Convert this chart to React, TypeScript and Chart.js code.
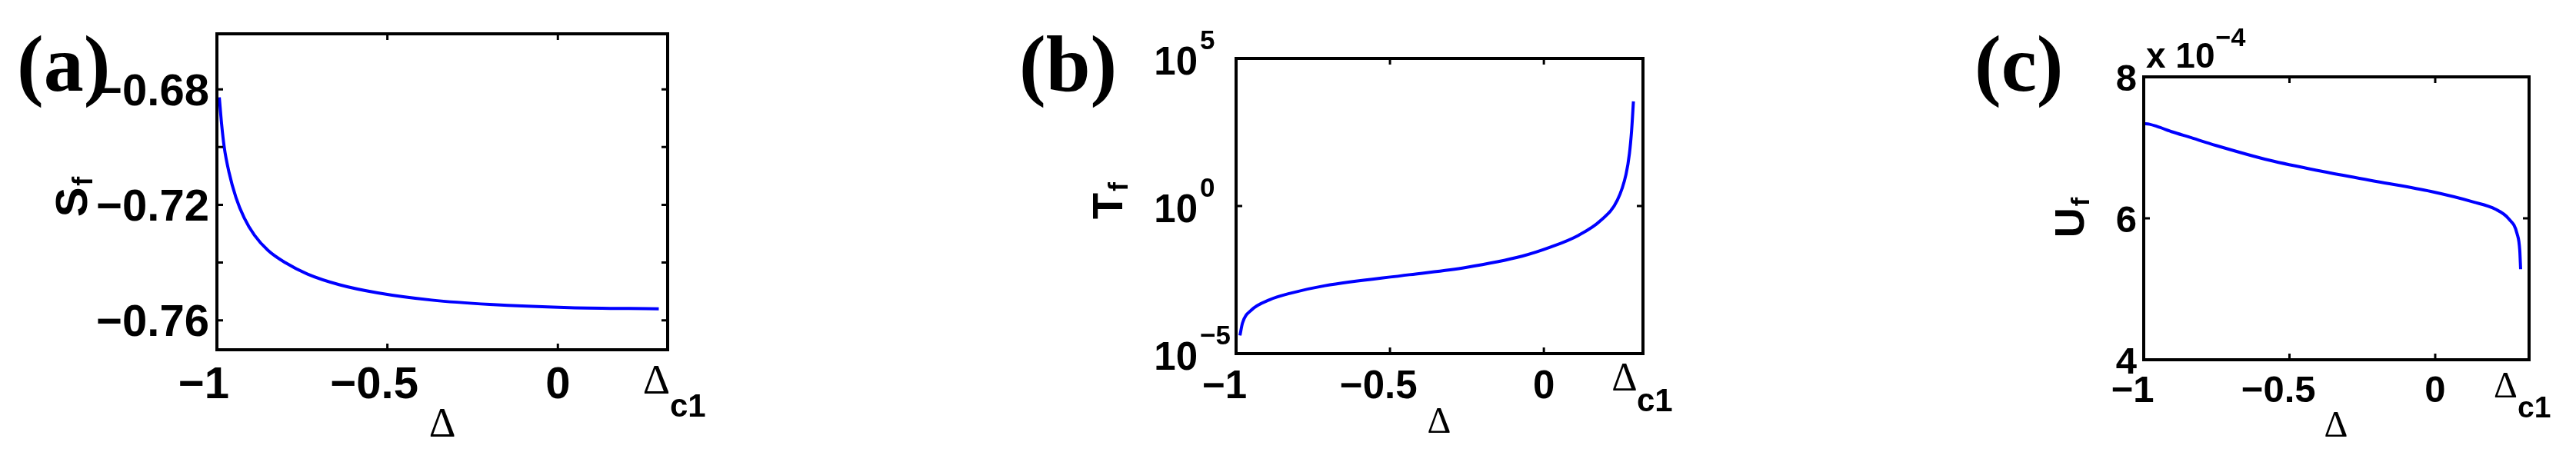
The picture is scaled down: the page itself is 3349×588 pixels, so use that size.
import React, { useEffect, useRef } from 'react';
import { Chart, registerables } from 'chart.js';

Chart.register(...registerables);

// ---------------- data ----------------
// Panel (a): S_f versus Delta
const A_DELTA = [-0.993, -0.9865, -0.9786, -0.965, -0.944, -0.92, -0.89, -0.85, -0.8, -0.734, -0.64, -0.528, -0.37, -0.2, 0.034, 0.296];
const A_SF = [-0.6828, -0.6917, -0.7, -0.7085, -0.7175, -0.7245, -0.7305, -0.7358, -0.74, -0.744, -0.7477, -0.7505, -0.753, -0.7545, -0.7556, -0.756];

// Panel (b): T_f versus Delta (log axis)
const B_DELTA = [-0.9875, -0.979, -0.95, -0.892, -0.825, -0.711, -0.437, -0.254, -0.071, 0.02, 0.111, 0.184, 0.239, 0.267, 0.278, 0.285, 0.291];
const B_TF = [4.1e-5, 1.1e-4, 3.0e-4, 6.6e-4, 1.1e-3, 2.0e-3, 4.7e-3, 8.3e-3, 2.0e-2, 4.0e-2, 0.1, 0.32, 1.6, 12, 60, 355, 3500];

// Panel (c): U_f versus Delta
const C_DELTA = [-1.0, -0.98, -0.955, -0.9, -0.845, -0.752, -0.568, -0.383, -0.199, -0.015, 0.132, 0.206, 0.253, 0.281, 0.29, 0.293];
const C_UF = [7.34e-4, 7.33e-4, 7.3e-4, 7.22e-4, 7.15e-4, 7.03e-4, 6.82e-4, 6.66e-4, 6.52e-4, 6.38e-4, 6.23e-4, 6.13e-4, 5.99e-4, 5.78e-4, 5.55e-4, 5.28e-4];

// ticks
const X_TICKS = [-1, -0.5, 0];
const X_TICK_LABELS = ['−1', '−0.5', '0'];
const A_Y_TICKS = [-0.76, -0.74, -0.72, -0.7, -0.68];
const A_Y_TICK_LABELS = ['−0.76', '', '−0.72', '', '−0.68'];
const B_Y_TICKS = [1e-5, 1, 1e5];
const B_Y_TICK_EXPONENTS = ['−5', '0', '5'];
const C_Y_TICKS = [4e-4, 6e-4, 8e-4];
const C_Y_TICK_LABELS = ['4', '6', '8'];

const X_MIN = -1;
const X_MAX = 0.322;

const SANS = '"Liberation Sans", Arial, Helvetica, sans-serif';
const SERIF = '"Liberation Serif", "Times New Roman", serif';
const BLUE = '#0000ff';
const TICK_LEN = 8;

type Spec = {
  key: string;
  left: number;
  width: number;
  area: { l: number; t: number; r: number; b: number };
  xs: number[];
  ys: number[];
  yType: 'linear' | 'logarithmic';
  yMin: number;
  yMax: number;
  yTicks: number[];
  yMode: 'plain' | 'pow10';
  yLabels: string[];
  fs: number;
  xLabelBase: number;
  yLabelRight: number;
  panel: { text: string; x: number; base: number };
  title: { main: string; baseX: number; cy: number; size: number; subSize: number; drop: number };
  xTitle: { cx: number; base: number; size: number };
  dc1: { cx: number; base: number; size: number; c1Left: number; c1Base: number; c1Size: number };
  mult?: { left: number; base: number; size: number; expBase: number; expSize: number };
};

const SPECS: Spec[] = [
  {
    key: 'a', left: 0, width: 1100,
    area: { l: 282, t: 44, r: 868, b: 455 },
    xs: A_DELTA, ys: A_SF, yType: 'linear', yMin: -0.7702, yMax: -0.6608,
    yTicks: A_Y_TICKS, yMode: 'plain', yLabels: A_Y_TICK_LABELS,
    fs: 58, xLabelBase: 518, yLabelRight: 272,
    panel: { text: '(a)', x: 22, base: 118 },
    title: { main: 'S', baseX: 113, cy: 257, size: 58, subSize: 36, drop: 7 },
    xTitle: { cx: 575, base: 568, size: 54 },
    dc1: { cx: 853.5, base: 512, size: 55, c1Left: 871, c1Base: 542, c1Size: 42 },
  },
  {
    key: 'b', left: 1100, width: 1150,
    area: { l: 1607, t: 76, r: 2136, b: 460 },
    xs: B_DELTA, ys: B_TF, yType: 'logarithmic', yMin: 1e-5, yMax: 1e5,
    yTicks: B_Y_TICKS, yMode: 'pow10', yLabels: B_Y_TICK_EXPONENTS,
    fs: 51, xLabelBase: 518, yLabelRight: 1557,
    panel: { text: '(b)', x: 1325, base: 118 },
    title: { main: 'T', baseX: 1459, cy: 262, size: 56, subSize: 35, drop: 7 },
    xTitle: { cx: 1871, base: 563, size: 48 },
    dc1: { cx: 2112, base: 508, size: 52, c1Left: 2128, c1Base: 535, c1Size: 42 },
  },
  {
    key: 'c', left: 2250, width: 1099,
    area: { l: 2787, t: 100, r: 3288, b: 468 },
    xs: C_DELTA, ys: C_UF, yType: 'linear', yMin: 4e-4, yMax: 8e-4,
    yTicks: C_Y_TICKS, yMode: 'plain', yLabels: C_Y_TICK_LABELS,
    fs: 49, xLabelBase: 523, yLabelRight: 2778,
    panel: { text: '(c)', x: 2567, base: 118 },
    title: { main: 'U', baseX: 2709, cy: 284, size: 54, subSize: 34, drop: 7 },
    xTitle: { cx: 3037, base: 568, size: 48 },
    dc1: { cx: 3257.5, base: 517, size: 48, c1Left: 3273, c1Base: 543, c1Size: 39 },
    mult: { left: 2790, base: 88, size: 46, expBase: 60, expSize: 34 },
  },
];

function makeDecor(spec: Spec) {
  return {
    id: 'decor_' + spec.key,
    afterDatasetsDraw(chart: any) {
      const ctx: CanvasRenderingContext2D = chart.ctx;
      const area = chart.chartArea;
      const xs = chart.scales.x;
      const ys = chart.scales.y;
      const ox = spec.left;
      ctx.save();
      ctx.fillStyle = '#000';
      ctx.strokeStyle = '#000';

      // inward ticks on all four sides
      ctx.lineWidth = 3;
      ctx.beginPath();
      X_TICKS.forEach((v) => {
        const px = xs.getPixelForValue(v);
        ctx.moveTo(px, area.bottom);
        ctx.lineTo(px, area.bottom - TICK_LEN);
        ctx.moveTo(px, area.top);
        ctx.lineTo(px, area.top + TICK_LEN);
      });
      spec.yTicks.forEach((v) => {
        const py = ys.getPixelForValue(v);
        ctx.moveTo(area.left, py);
        ctx.lineTo(area.left + TICK_LEN, py);
        ctx.moveTo(area.right, py);
        ctx.lineTo(area.right - TICK_LEN, py);
      });
      ctx.stroke();

      // box
      ctx.lineWidth = 4;
      ctx.strokeRect(area.left, area.top, area.right - area.left, area.bottom - area.top);

      ctx.textBaseline = 'alphabetic';

      // x tick labels: number centred on tick, minus hanging to the left
      ctx.font = `bold ${spec.fs}px ${SANS}`;
      ctx.textAlign = 'left';
      X_TICKS.forEach((v, i) => {
        const lab = X_TICK_LABELS[i];
        const neg = lab.startsWith('−');
        const num = neg ? lab.slice(1) : lab;
        const w = ctx.measureText(num).width;
        const px = xs.getPixelForValue(v);
        const x0 = px - w / 2;
        ctx.fillText(num, x0, spec.xLabelBase);
        if (neg) {
          const mw = ctx.measureText('−').width;
          ctx.fillText('−', x0 - mw, spec.xLabelBase);
        }
      });

      // y tick labels
      spec.yTicks.forEach((v, i) => {
        const lab = spec.yLabels[i];
        if (!lab) return;
        const py = ys.getPixelForValue(v);
        if (spec.yMode === 'plain') {
          ctx.font = `bold ${spec.fs}px ${SANS}`;
          ctx.textAlign = 'right';
          ctx.fillText(lab, spec.yLabelRight - ox, py + 0.358 * spec.fs);
        } else {
          ctx.font = `bold ${spec.fs}px ${SANS}`;
          ctx.textAlign = 'right';
          ctx.fillText('10', spec.yLabelRight - ox, py + 2.5 + 0.358 * spec.fs);
          ctx.font = `bold 35px ${SANS}`;
          ctx.textAlign = 'left';
          ctx.fillText(lab, spec.yLabelRight - ox + 3, py - 12);
        }
      });

      // multiplier (x 10^-4)
      if (spec.mult) {
        const m = spec.mult;
        ctx.textAlign = 'left';
        ctx.font = `bold ${m.size}px ${SANS}`;
        const t = 'x 10';
        ctx.fillText(t, m.left - ox, m.base);
        const w = ctx.measureText(t).width;
        ctx.font = `bold ${m.expSize}px ${SANS}`;
        ctx.fillText('−4', m.left - ox + w + 1, m.expBase);
      }

      // panel label
      ctx.textAlign = 'left';
      ctx.font = `bold 104px ${SERIF}`;
      ctx.fillText(spec.panel.text, spec.panel.x - ox, spec.panel.base);

      // rotated y title with subscript f
      const tt = spec.title;
      ctx.save();
      ctx.translate(tt.baseX - ox, tt.cy);
      ctx.rotate(-Math.PI / 2);
      ctx.font = `bold ${tt.size}px ${SANS}`;
      const wm = ctx.measureText(tt.main).width;
      ctx.font = `bold ${tt.subSize}px ${SANS}`;
      const wsub = ctx.measureText('f').width;
      let x0 = -(wm + wsub) / 2;
      ctx.font = `bold ${tt.size}px ${SANS}`;
      ctx.fillText(tt.main, x0, 0);
      x0 += wm + 2;
      ctx.font = `bold ${tt.subSize}px ${SANS}`;
      ctx.fillText('f', x0, tt.drop);
      ctx.restore();

      // x title Δ
      ctx.textAlign = 'center';
      ctx.font = `${spec.xTitle.size}px ${SERIF}`;
      ctx.fillText('Δ', spec.xTitle.cx - ox, spec.xTitle.base);

      // Δc1 marker label
      const d = spec.dc1;
      ctx.font = `${d.size}px ${SERIF}`;
      ctx.fillText('Δ', d.cx - ox, d.base);
      ctx.textAlign = 'left';
      ctx.font = `bold ${d.c1Size}px ${SANS}`;
      ctx.fillText('c1', d.c1Left - ox, d.c1Base);

      ctx.restore();
    },
  };
}

function Panel({ spec }: { spec: Spec }) {
  const ref = useRef<HTMLCanvasElement | null>(null);
  useEffect(() => {
    if (!ref.current) return;
    const pts = spec.xs.map((x, i) => ({ x, y: spec.ys[i] }));
    const chart = new Chart(ref.current, {
      type: 'line',
      data: {
        datasets: [
          {
            data: pts,
            borderColor: BLUE,
            borderWidth: 4,
            pointRadius: 0,
            fill: false,
            cubicInterpolationMode: 'monotone',
          },
        ],
      },
      options: {
        responsive: false,
        animation: false,
        devicePixelRatio: 1,
        events: [],
        layout: {
          padding: {
            left: spec.area.l - spec.left,
            right: spec.left + spec.width - spec.area.r,
            top: spec.area.t,
            bottom: 588 - spec.area.b,
          },
        },
        plugins: { legend: { display: false }, tooltip: { enabled: false }, title: { display: false } },
        scales: {
          x: { type: 'linear', min: X_MIN, max: X_MAX, display: false },
          y: { type: spec.yType, min: spec.yMin, max: spec.yMax, display: false },
        },
      } as any,
      plugins: [makeDecor(spec)],
    });
    return () => chart.destroy();
  }, [spec]);
  return (
    <canvas
      ref={ref}
      width={spec.width}
      height={588}
      style={{ position: 'absolute', left: spec.left, top: 0, width: spec.width, height: 588 }}
    />
  );
}

export default function App() {
  return (
    <div style={{ position: 'fixed', left: 0, top: 0, width: 3349, height: 588, background: '#fff', overflow: 'hidden' }}>
      {SPECS.map((s) => (
        <Panel key={s.key} spec={s} />
      ))}
    </div>
  );
}
